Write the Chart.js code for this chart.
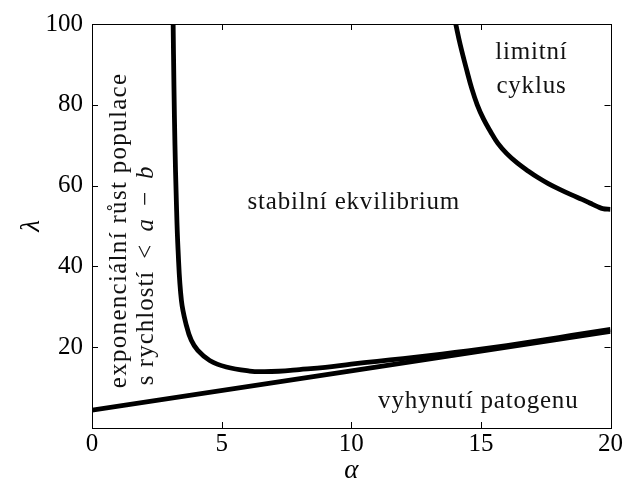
<!DOCTYPE html>
<html><head><meta charset="utf-8">
<script src="https://cdn.jsdelivr.net/npm/chart.js@4/dist/chart.umd.min.js"></script>
<style>html,body{margin:0;padding:0;background:#fff}#wrap{width:624px;height:480px;position:relative}</style>
</head><body><div id="wrap"><canvas id="c"></canvas></div>
<script>
// ---- data ----
const xTicks = [0, 5, 10, 15, 20];
const yTicks = [20, 40, 60, 80, 100];
// boundary: pathogen extinction (straight line)
const extAlpha  = [0, 20];
const extLambda = [4.4, 23.9];
// boundary: exponential growth / stable equilibrium (U-shaped curve)
const uAlpha  = [3.13, 3.16, 3.2, 3.25, 3.32, 3.45, 3.64, 3.83, 4.08, 4.54, 5.18, 6.08, 6.6, 7.2, 8, 9, 10, 11, 12, 13, 14, 15, 16, 17, 18, 19, 20];
const uLambda = [100, 85, 70, 57, 44, 31.5, 25.4, 21.7, 19.2, 16.7, 15.1, 14.1, 13.95, 14.05, 14.45, 15.0, 15.8, 16.5, 17.2, 17.9, 18.7, 19.5, 20.4, 21.4, 22.4, 23.4, 24.4];
// boundary: limit cycle
const lcAlpha  = [14.03, 14.2, 14.47, 14.65, 14.86, 15.1, 15.37, 15.65, 16.0, 16.4, 16.85, 17.2, 17.6, 18.0, 18.5, 18.9, 19.2, 19.5, 19.7, 20];
const lcLambda = [100, 95, 88.2, 84, 80, 76.5, 73.4, 70.5, 67.9, 65.6, 63.5, 62.0, 60.5, 59.2, 57.7, 56.6, 55.7, 54.8, 54.3, 54.1];
// region labels
const labelStable = 'stabilní ekvilibrium';
const labelLimit1 = 'limitní';
const labelLimit2 = 'cyklus';
const labelExtinct = 'vyhynutí patogenu';
const labelExp1 = 'exponenciální růst populace';
const labelExp2 = ['s rychlostí', '<', 'a', '−', 'b'];

const pts = (xs, ys) => xs.map((x, i) => ({x: x, y: ys[i]}));
const SERIF = "'Liberation Serif', 'Times New Roman', serif";

const framePlugin = {
  id: 'frame',
  afterDatasetsDraw(chart) {
    const {ctx, chartArea: a, scales: {x, y}} = chart;
    ctx.save();
    ctx.strokeStyle = '#000';
    ctx.lineWidth = 1;
    ctx.strokeRect(Math.round(a.left) + 0.5, Math.round(a.top) + 0.5, Math.round(a.right - a.left), Math.round(a.bottom - a.top));
    const tl = 6;
    ctx.beginPath();
    xTicks.forEach(v => {
      const px = Math.round(x.getPixelForValue(v)) + 0.5;
      ctx.moveTo(px, a.bottom); ctx.lineTo(px, a.bottom - tl);
      ctx.moveTo(px, a.top); ctx.lineTo(px, a.top + tl);
    });
    yTicks.forEach(v => {
      const py = Math.round(y.getPixelForValue(v)) + 0.5;
      ctx.moveTo(a.left, py); ctx.lineTo(a.left + tl, py);
      ctx.moveTo(a.right, py); ctx.lineTo(a.right - tl, py);
    });
    ctx.stroke();

    // region labels
    ctx.fillStyle = '#111';
    ctx.font = '25px ' + SERIF;
    ctx.letterSpacing = '0.8px';
    ctx.textBaseline = 'alphabetic';
    ctx.textAlign = 'center';
    ctx.fillText(labelStable, x.getPixelForValue(10.1), y.getPixelForValue(54.2));
    ctx.fillText(labelLimit1, x.getPixelForValue(16.95), y.getPixelForValue(91.3));
    ctx.fillText(labelLimit2, x.getPixelForValue(16.95), y.getPixelForValue(83.0));
    ctx.fillText(labelExtinct, x.getPixelForValue(14.9), y.getPixelForValue(4.9));

    // rotated labels
    ctx.textAlign = 'left';
    ctx.save();
    ctx.translate(x.getPixelForValue(1.32), y.getPixelForValue(9.85));
    ctx.rotate(-Math.PI / 2);
    ctx.letterSpacing = '1.3px';
    ctx.fillText(labelExp1, 0, 0);
    ctx.restore();
    ctx.save();
    ctx.translate(x.getPixelForValue(2.35), y.getPixelForValue(10.6));
    ctx.rotate(-Math.PI / 2);
    ctx.letterSpacing = '1.0px';
    let off = 0;
    labelExp2.forEach((s, i) => {
      ctx.font = (i === 2 || i === 4 ? 'italic ' : '') + '25px ' + SERIF;
      ctx.fillText(s, off, 0);
      off += ctx.measureText(s).width + 12;
    });
    ctx.restore();
    ctx.restore();
  }
};

const ds = (data) => ({
  data: data, showLine: true, borderColor: '#000', backgroundColor: '#000',
  borderWidth: 4.8, pointRadius: 0, fill: false, tension: 0.4
});

new Chart(document.getElementById('c'), {
  type: 'scatter',
  data: { datasets: [ ds(pts(extAlpha, extLambda)), ds(pts(uAlpha, uLambda)), ds(pts(lcAlpha, lcLambda)) ] },
  options: {
    responsive: true, maintainAspectRatio: false, animation: false,
    devicePixelRatio: 1,
    layout: { padding: { top: 22, right: 12, left: 0, bottom: 0 } },
    plugins: { legend: { display: false }, tooltip: { enabled: false } },
    scales: {
      x: {
        type: 'linear', min: 0, max: 20,
        afterBuildTicks: s => { s.ticks = xTicks.map(v => ({value: v})); },
        afterFit: s => { s.height = 52; },
        grid: { display: true, drawOnChartArea: false, drawTicks: false },
        border: { display: false },
        ticks: { color: '#000', font: { family: SERIF, size: 25 }, padding: 1, maxRotation: 0, autoSkip: false },
        title: { display: true, text: 'α', color: '#000', font: { family: SERIF, size: 27, style: 'italic' }, padding: { top: 0, bottom: -7 } }
      },
      y: {
        type: 'linear', min: 0, max: 100,
        afterBuildTicks: s => { s.ticks = yTicks.map(v => ({value: v})); },
        afterFit: s => { s.width = 92; },
        grid: { display: true, drawOnChartArea: false, drawTicks: false },
        border: { display: false },
        ticks: { color: '#000', font: { family: SERIF, size: 25 }, padding: 9, autoSkip: false },
        title: { display: true, text: 'λ', color: '#000', font: { family: SERIF, size: 27, style: 'italic' }, padding: { top: 16, bottom: 0 } }
      }
    }
  },
  plugins: [framePlugin]
});
</script></body></html>
